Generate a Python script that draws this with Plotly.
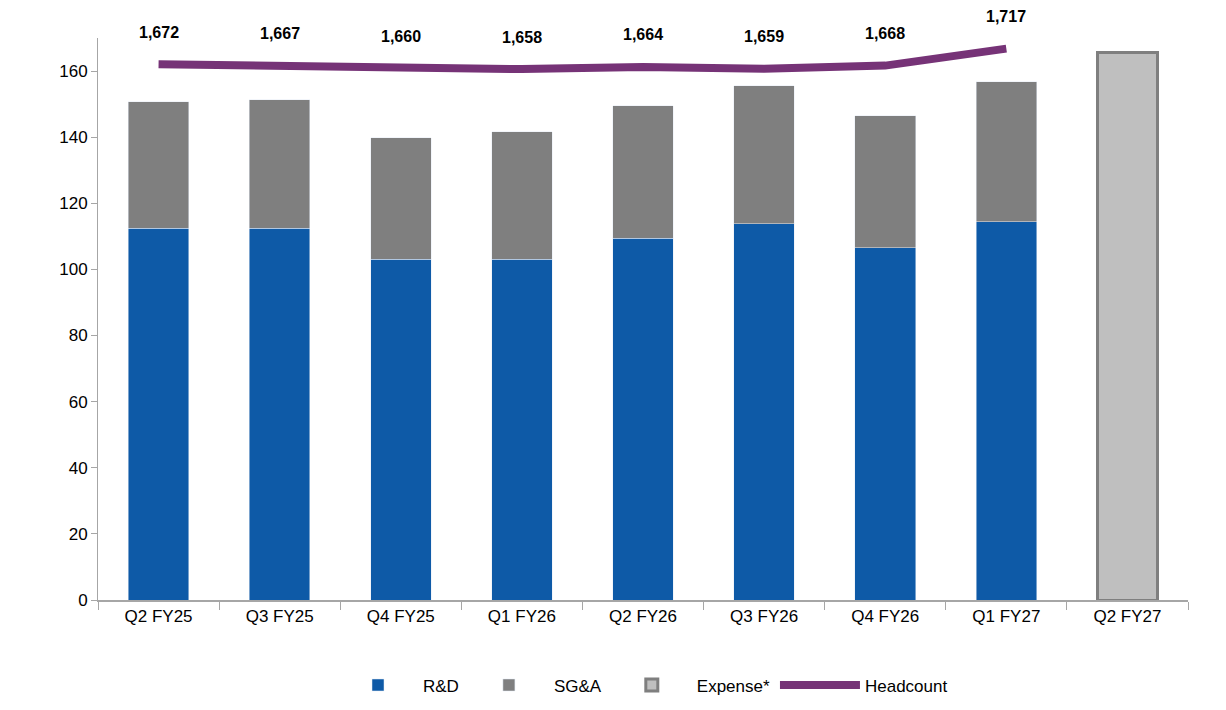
import plotly.graph_objects as go

quarters = ["Q2 FY25", "Q3 FY25", "Q4 FY25", "Q1 FY26", "Q2 FY26", "Q3 FY26", "Q4 FY26", "Q1 FY27", "Q2 FY27"]
rnd = [112.5, 112.5, 103.0, 103.0, 109.5, 113.8, 106.5, 114.4, None]
total = [150.7, 151.3, 139.8, 141.6, 149.5, 155.6, 146.5, 156.8, None]
sga = [t - r if t is not None else None for t, r in zip(total, rnd)]
expense = [None] * 8 + [165.5]
headcount = [1672, 1667, 1660, 1658, 1664, 1659, 1668, 1717]

font = dict(family="Liberation Sans Narrow, Liberation Sans, Arial", size=16, color="black")

fig = go.Figure()
fig.add_trace(go.Bar(x=quarters, y=rnd, name="R&D", marker_color="#0e5aa7", width=0.5))
fig.add_trace(go.Bar(x=quarters, y=sga, name="SG&A", marker_color="#7f7f7f", width=0.5))
fig.add_trace(go.Bar(x=quarters, y=expense, name="Expense*", marker=dict(color="#bfbfbf", line=dict(color="#7f7f7f", width=3)), width=0.5))
fig.add_trace(go.Scatter(x=quarters[:8], y=headcount, name="Headcount", yaxis="y2", mode="lines",
                         line=dict(color="#763377", width=8)))

for q, h in zip(quarters, headcount):
    fig.add_annotation(x=q, y=h, yref="y2", text="<b>{:,}</b>".format(h), showarrow=False, yshift=32, font=font)

fig.update_layout(
    barmode="stack",
    width=1226, height=710,
    plot_bgcolor="white", paper_bgcolor="white",
    margin=dict(l=90, r=46, t=30, b=118),
    font=font,
    showlegend=True,
    legend=dict(orientation="h", x=0.5, xanchor="center", y=-0.12, yanchor="top",
                traceorder="normal", itemwidth=80, font=dict(size=17)),
    xaxis=dict(showline=True, linecolor="#a6a6a6", linewidth=2, ticks="outside", tickson="boundaries",
               ticklen=8, tickcolor="#a6a6a6", tickfont=dict(size=17), range=[-0.5, 8.5]),
    yaxis=dict(range=[0, 170], dtick=20, showgrid=False, showline=True, linecolor="#a6a6a6", linewidth=1,
               ticks="outside", tickcolor="#a6a6a6", ticklen=6, tickfont=dict(size=17), zeroline=False),
    yaxis2=dict(overlaying="y", range=[129, 1747.5], visible=False),
)
fig.for_each_trace(lambda t: None)
fig.data[2].update(marker_line=dict(color="#7f7f7f", width=3))
fig.write_html("out.html")
